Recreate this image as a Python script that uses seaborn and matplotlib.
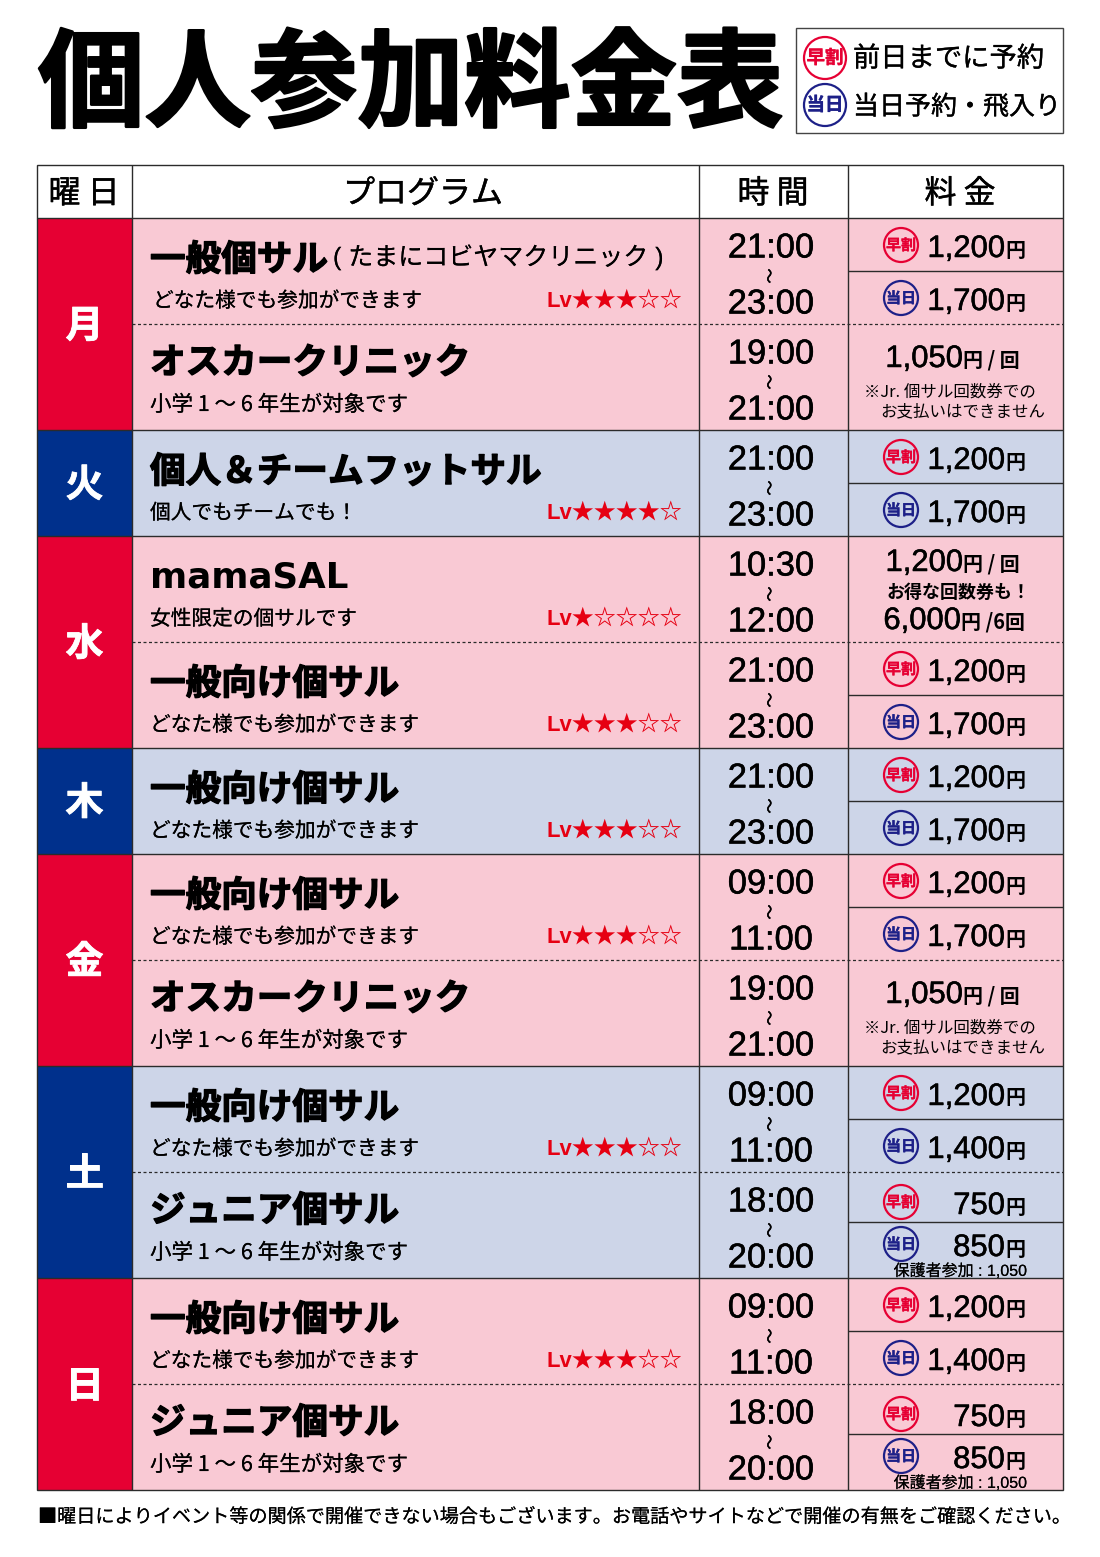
import numpy as np
import matplotlib
matplotlib.use("Agg")
import matplotlib.pyplot as plt
import matplotlib.patheffects as pe
from matplotlib.colors import ListedColormap
from matplotlib.patches import Circle, Rectangle
import seaborn as sns

sns.set_theme(style="white")
FONT = ["Liberation Sans", "Noto Sans CJK JP", "DejaVu Sans"]
CJK = ["Noto Sans CJK JP", "Liberation Sans", "DejaVu Sans"]
WIDE = ["DejaVu Sans", "Noto Sans CJK JP"]
plt.rcParams["font.family"] = FONT

# ---------- data ----------
title = "個人参加料金表"
legend_early = "前日までに予約"
legend_today = "当日予約・飛入り"
headers = ["曜 日", "プログラム", "時 間", "料 金"]
footnote = "■曜日によりイベント等の関係で開催できない場合もございます。お電話やサイトなどで開催の有無をご確認ください。"

days = ["月", "火", "水", "木", "金", "土", "日"]
day_rows = [2, 1, 2, 1, 2, 2, 2]
day_kind = [0, 1, 0, 1, 0, 1, 0]

GEN = "一般向け個サル"
OSC = "オスカークリニック"
JUN = "ジュニア個サル"
ANY = "どなた様でも参加ができます"
KID = "小学 1 ～ 6 年生が対象です"
programs = ["一般個サル", OSC, "個人＆チームフットサル", "mamaSAL", GEN, GEN, GEN, OSC, GEN, JUN, GEN, JUN]
subtitles = [ANY, KID, "個人でもチームでも！", "女性限定の個サルです", ANY, ANY, ANY, KID, ANY, KID, ANY, KID]
levels = [3, 0, 4, 1, 3, 3, 3, 0, 3, 0, 3, 0]
time_from = ["21:00", "19:00", "21:00", "10:30", "21:00", "21:00", "09:00", "19:00", "09:00", "18:00", "09:00", "18:00"]
time_to = ["23:00", "21:00", "23:00", "12:00", "23:00", "23:00", "11:00", "21:00", "11:00", "20:00", "11:00", "20:00"]
price_early = ["1,200", None, "1,200", None, "1,200", "1,200", "1,200", None, "1,200", "750", "1,200", "750"]
price_today = ["1,700", None, "1,700", None, "1,700", "1,700", "1,700", None, "1,400", "850", "1,400", "850"]
single_price = [None, "1,050", None, "1,200", None, None, None, "1,050", None, None, None, None]
bracket_note = "( たまにコビヤマクリニック )"
note_jr = ["※Jr. 個サル回数券での", "お支払いはできません"]
note_deal = "お得な回数券も！"
pack_price = "6,000"
guardian = "保護者参加 : 1,050"

# ---------- styles ----------
RED, NAVY = "#E60033", "#00308C"
PINK, LBLUE = "#F9C9D4", "#CDD5E8"
STAMP_R, STAMP_B = "#E60033", "#1D2088"
LINE = "#2b2b2b"
W, H = 1100, 1557
X0, XD, XP, XT, X1 = 37, 132, 699, 848, 1063
Y_H, Y0, ROW = 165, 218, 106

fig = plt.figure(figsize=(W / 100, H / 100), dpi=100, facecolor="white")

def px_axes(x0, y0, x1, y1, **kw):
    return fig.add_axes([x0 / W, 1 - y1 / H, (x1 - x0) / W, (y1 - y0) / H], **kw)

kinds = np.repeat(day_kind, day_rows).reshape(-1, 1)
Y1 = Y0 + ROW * len(kinds)
sns.heatmap(kinds, ax=px_axes(X0, Y0, XD, Y1), cmap=ListedColormap([RED, NAVY]), vmin=0, vmax=1,
            cbar=False, xticklabels=False, yticklabels=False)
sns.heatmap(kinds, ax=px_axes(XD, Y0, X1, Y1), cmap=ListedColormap([PINK, LBLUE]), vmin=0, vmax=1,
            cbar=False, xticklabels=False, yticklabels=False)

ax = px_axes(0, 0, W, H)
ax.set_xlim(0, W)
ax.set_ylim(H, 0)
ax.axis("off")
ax.patch.set_alpha(0)

def T(x, y, s, px, ha="left", color="black", weight="normal", stroke=0.0, family=None, **kw):
    t = ax.text(x, y + 2, s, fontsize=px * 0.72, ha=ha, va="center", color=color, weight=weight,
                family=family or FONT, **kw)
    if stroke:
        t.set_path_effects([pe.withStroke(linewidth=stroke * 0.72, foreground=color)])
    return t

def hline(y, x0=X0, x1=X1, **kw):
    ax.plot([x0, x1], [y, y], color=kw.pop("color", LINE), lw=kw.pop("lw", 1.0), solid_capstyle="butt", **kw)

def vline(x, y0, y1):
    ax.plot([x, x], [y0, y1], color=LINE, lw=1.0, solid_capstyle="butt")

def stamp(x, y, kind, r=17, px=15):
    col = STAMP_R if kind == "early" else STAMP_B
    ax.add_patch(Circle((x, y), r, fill=False, ec=col, lw=1.6))
    T(x, y - 2, "早割" if kind == "early" else "当日", px, ha="center", color=col, weight="bold", stroke=0.3, family=CJK)

# ---------- title and legend ----------
T(38, 85, title, 106.5, weight="bold", stroke=2.6, family=CJK)
ax.add_patch(Rectangle((796, 28), 267, 105, fill=False, ec="#444444", lw=1.0))
stamp(825, 58, "early", r=21, px=18.5)
stamp(825, 105, "today", r=21, px=18.5)
T(853, 57, legend_early, 27.3, family=CJK, stroke=0.3)
T(853, 105, legend_today, 26, family=CJK, stroke=0.3)

# ---------- header ----------
ax.add_patch(Rectangle((X0, Y_H), X1 - X0, Y1 - Y_H, fill=False, ec=LINE, lw=1.0, zorder=5))
hline(Y0)
for s, xc in zip(headers, [84, 423, 773, 960]):
    T(xc, 192, s, 32, ha="center", family=CJK, stroke=0.4)

# ---------- columns ----------
for x in (XD, XP, XT):
    vline(x, Y_H, Y1)

# ---------- days ----------
r = 0
for d, n in zip(days, day_rows):
    T((X0 + XD) / 2, Y0 + ROW * (r + n / 2), d, 38, ha="center", color="white", weight="bold", stroke=0.8, family=CJK)
    if r:
        hline(Y0 + ROW * r)
    if n == 2:
        hline(Y0 + ROW * (r + 1), x0=XD, linestyle=(0, (2.4, 2.0)), lw=0.9)
    r += n

# ---------- rows ----------
for i, prog in enumerate(programs):
    t = Y0 + ROW * i
    tall = prog in (OSC, JUN)
    if prog == "mamaSAL":
        T(150, t + 39, prog, 35.6, weight="bold", family=WIDE)
    else:
        T(150, t + (37 if tall else 40), prog, 35.6, weight="bold", stroke=1.3, family=CJK)
    kid = subtitles[i] == KID
    T(153 if i == 0 else 150, t + (79 if kid else 81), subtitles[i], 21.5 if kid else 20.7, family=CJK, stroke=0.15)
    if levels[i]:
        T(682, t + 81, "Lv" + "★" * levels[i] + "☆" * (5 - levels[i]), 22.0, ha="right", color="#E60012",
          weight="bold", family=FONT)

    T(771, t + 29, time_from[i], 34.5, ha="center", stroke=0.5)
    T(771, t + 56, "～", 15, ha="center", rotation=90, family=CJK, stroke=0.5)
    T(771, t + 85, time_to[i], 34.5, ha="center", stroke=0.5)

    if price_early[i]:
        jr = price_early[i] == "750"
        split = 50 if jr else 53
        hline(t + split, x0=XT)
        y_a, y_b = (t + 30, t + 72) if jr else (t + 27, t + 80)
        stamp(901, y_a, "early")
        stamp(901, y_b, "today")
        for val, y in ((price_early[i], y_a + 2), (price_today[i], y_b + 2)):
            T(1005, y, val, 31, ha="right", stroke=0.5)
            T(1005, y + 1, "円", 20, weight="bold", family=CJK)
        if jr:
            T(1027, t + 97, guardian, 16, ha="right", stroke=0.1)
    else:
        deal = i == 3
        y = t + (25 if deal else 33)
        T(963, y, single_price[i], 31, ha="right", stroke=0.5)
        T(963, y + 1, "円 / 回", 20, weight="bold", family=CJK)
        if deal:
            T(958, t + 55, note_deal, 18, ha="center", weight="bold", family=CJK)
            T(961, t + 83, pack_price, 31, ha="right", stroke=0.5)
            T(961, t + 84, "円 /6回", 20, weight="bold", family=CJK)
        else:
            T(864, t + 66, note_jr[0], 16.5, family=CJK)
            T(880, t + 86, note_jr[1], 16.5, family=CJK)

T(38, 1515, footnote, 19.13, family=CJK, stroke=0.1)
T(333, 255, bracket_note, 25, family=FONT, stroke=0.1)

fig.savefig("out.png", dpi=100, facecolor="white")
